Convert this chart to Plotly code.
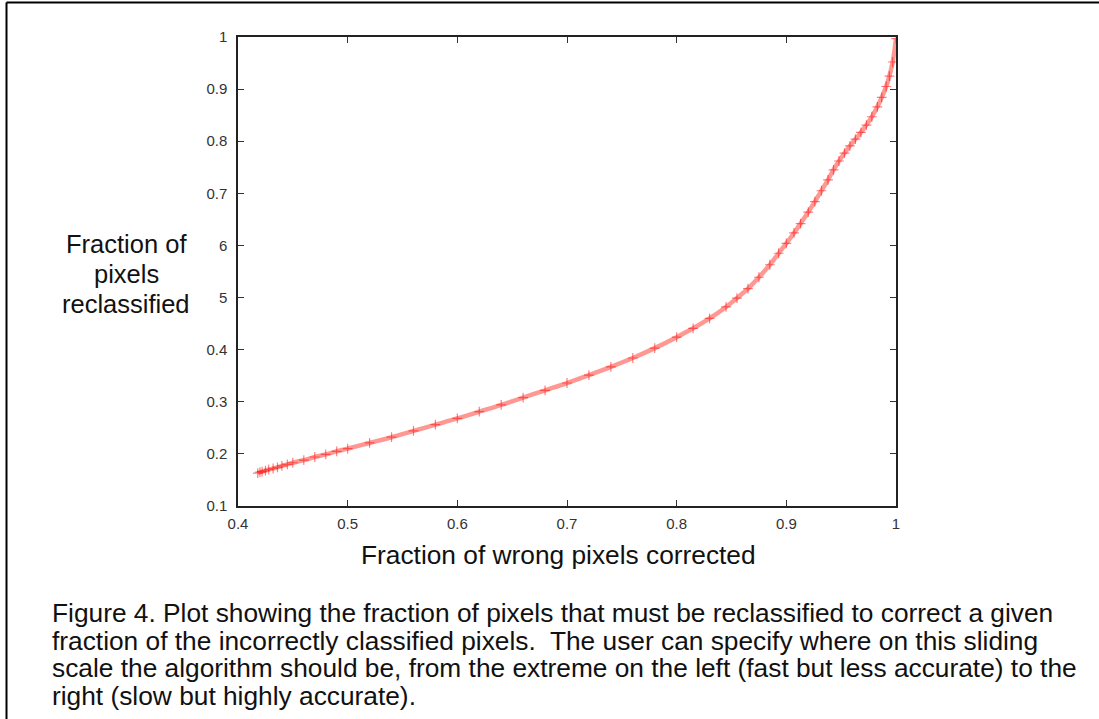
import plotly.graph_objects as go

# Data
x_corrected = [0.418, 0.420, 0.422, 0.425, 0.428, 0.432, 0.436, 0.440, 0.445, 0.450, 0.460, 0.470,
               0.480, 0.490, 0.500, 0.520, 0.540, 0.560, 0.580, 0.600, 0.620, 0.640, 0.660,
               0.680, 0.700, 0.720, 0.740, 0.760, 0.780, 0.800, 0.815, 0.830, 0.845, 0.855,
               0.865, 0.875, 0.885, 0.893, 0.900, 0.907, 0.913, 0.920, 0.926, 0.932, 0.938,
               0.943, 0.948, 0.953, 0.958, 0.963, 0.968, 0.973, 0.978, 0.983, 0.987, 0.991,
               0.994, 0.997, 1.000]
y_reclassified = [0.163, 0.165, 0.166, 0.168, 0.170, 0.172, 0.174, 0.177, 0.180, 0.183, 0.188, 0.194,
                  0.199, 0.205, 0.210, 0.221, 0.232, 0.244, 0.256, 0.268, 0.281, 0.294, 0.308,
                  0.322, 0.336, 0.351, 0.367, 0.384, 0.403, 0.424, 0.441, 0.460, 0.482, 0.499,
                  0.517, 0.539, 0.563, 0.585, 0.604, 0.624, 0.642, 0.664, 0.684, 0.705, 0.726,
                  0.745, 0.762, 0.777, 0.791, 0.804, 0.817, 0.831, 0.847, 0.866, 0.884, 0.905,
                  0.925, 0.952, 0.997]

y_tickvals = [0.1, 0.2, 0.3, 0.4, 0.5, 0.6, 0.7, 0.8, 0.9, 1.0]
y_ticktext = ["0.1", "0.2", "0.3", "0.4", "5", "6", "0.7", "0.8", "0.9", "1"]
x_tickvals = [0.4, 0.5, 0.6, 0.7, 0.8, 0.9, 1.0]
x_ticktext = ["0.4", "0.5", "0.6", "0.7", "0.8", "0.9", "1"]

y_title_lines = ["Fraction of", "pixels", "reclassified"]
x_title = "Fraction of wrong pixels corrected"
caption_lines = [
    "Figure 4. Plot showing the fraction of pixels that must be reclassified to correct a given",
    "fraction of the incorrectly classified pixels.  The user can specify where on this sliding",
    "scale the algorithm should be, from the extreme on the left (fast but less accurate) to the",
    "right (slow but highly accurate).",
]

W, H = 1099, 719
L, R, T, B = 238, 896, 37, 506

fig = go.Figure()
fig.add_trace(go.Scatter(
    x=x_corrected, y=y_reclassified, mode="lines",
    line=dict(color="rgba(255,50,40,0.5)", width=4.5, shape="spline"),
    hoverinfo="skip", showlegend=False))
fig.add_trace(go.Scatter(
    x=x_corrected, y=y_reclassified, mode="markers",
    marker=dict(symbol="cross-thin", size=7, line=dict(color="rgba(255,0,0,0.5)", width=1.2)),
    showlegend=False))

font = "Liberation Sans, Arial, Helvetica, sans-serif"
axis_common = dict(showgrid=False, zeroline=False, showline=True, linecolor="#222", linewidth=1.5,
                   ticks="inside", ticklen=6, tickcolor="#333", tickwidth=1.2, mirror="ticks",
                   automargin=False, tickfont=dict(family=font, size=15, color="#333"))

fig.update_layout(
    width=W, height=H, margin=dict(l=0, r=0, t=0, b=0, pad=0, autoexpand=False),
    paper_bgcolor="white", plot_bgcolor="white", showlegend=False,
    xaxis=dict(range=[0.4, 1.0], domain=[L / W, R / W], tickvals=x_tickvals, ticktext=x_ticktext,
               ticklabelstandoff=3, **axis_common),
    yaxis=dict(range=[0.1, 1.0], domain=[1 - B / H, 1 - T / H], tickvals=y_tickvals,
               ticktext=y_ticktext, ticklabelstandoff=6, **axis_common),
)

# Figure frame (clipped at right and bottom)
fig.add_shape(type="line", xref="paper", yref="paper", x0=6.5 / W, x1=6.5 / W, y0=0, y1=1 - 2.5 / H,
              line=dict(color="black", width=2))
fig.add_shape(type="line", xref="paper", yref="paper", x0=6.5 / W, x1=1, y0=1 - 2.5 / H, y1=1 - 2.5 / H,
              line=dict(color="black", width=2))

big = dict(family=font, size=25.5, color="#111")
for i, t in enumerate(y_title_lines):
    fig.add_annotation(xref="paper", yref="paper", x=126 / W, y=1 - (244 + 30 * i) / H, text=t,
                       showarrow=False, font=big, xanchor="center", yanchor="middle")
fig.add_annotation(xref="paper", yref="paper", x=558 / W, y=1 - 555 / H, text=x_title,
                   showarrow=False, font=dict(family=font, size=26.3, color="#111"),
                   xanchor="center", yanchor="middle")

for i, t in enumerate(caption_lines):
    fig.add_annotation(xref="paper", yref="paper", x=50 / W, y=1 - (613 + 27.7 * i) / H, text=t,
                       showarrow=False, font=dict(family=font, size=26.3, color="#111"), align="left",
                       xanchor="left", yanchor="middle")

fig.write_html("out.html")
